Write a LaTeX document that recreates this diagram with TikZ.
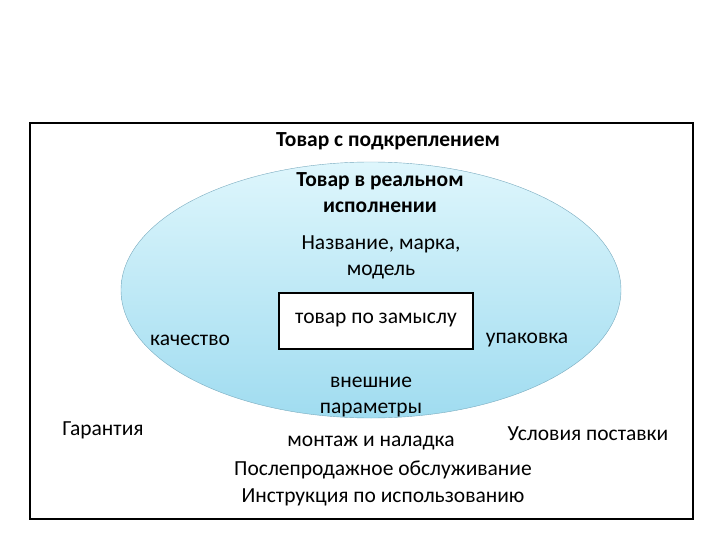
\documentclass[tikz,border=0pt]{standalone}
\usepackage{fontspec}
\setmainfont{Carlito}
\definecolor{ltop}{RGB}{222,246,252}
\definecolor{lbot}{RGB}{160,220,240}
\definecolor{ledge}{RGB}{120,170,190}
\begin{document}
\begin{tikzpicture}[x=1pt,y=-1pt,
  txt/.style={font=\fontsize{21.5}{26}\selectfont,align=center,inner sep=0pt},
  btxt/.style={font=\fontsize{21.5}{26}\selectfont\bfseries,align=center,inner sep=0pt}]
\useasboundingbox (0,0) rectangle (720,540);
\draw[line width=1.2pt] (30,123) rectangle (693,519);
\shade[top color=ltop, bottom color=lbot, draw=ledge] (371,290) ellipse [x radius=250, y radius=128];
\node[draw,line width=1.5pt,fill=white,minimum width=194,minimum height=56,inner sep=0pt] (core) at (376,321) {};
\node[txt] (t0) at (376,320) {товар по замыслу};
\node[btxt] (t1) at (388,141) {Товар с подкреплением};
\node[btxt] (t2) at (380,193) {Товар в реальном\\исполнении};
\node[txt] (t3) at (381,257) {Название, марка,\\модель};
\node[txt] (t4) at (190,340) {качество};
\node[txt] (t5) at (527,340) {упаковка};
\node[txt] (t6) at (371,397) {внешние\\параметры};
\node[txt] (t7) at (103,430) {Гарантия};
\node[txt] (t8) at (588,434) {Условия поставки};
\node[txt] (t9) at (371,443) {монтаж и наладка};
\node[txt] (t10) at (383,470) {Послепродажное обслуживание};
\node[txt] (t11) at (383,497) {Инструкция по использованию};
\end{tikzpicture}
\end{document}
